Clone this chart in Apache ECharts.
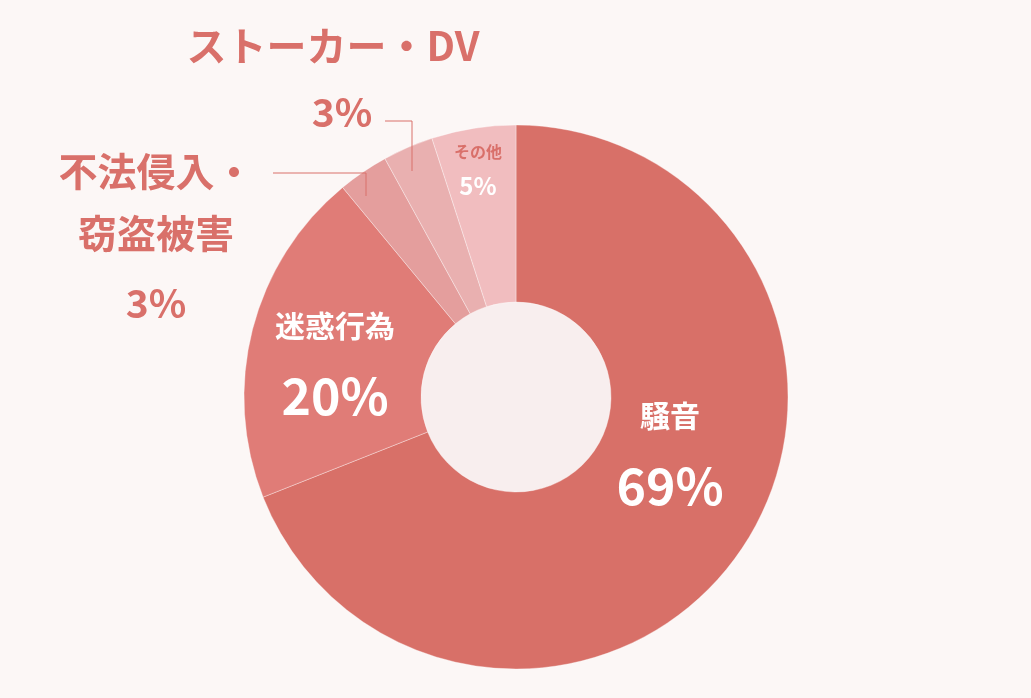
<!DOCTYPE html>
<html>
<head>
<meta charset="utf-8">
<style>
html,body{margin:0;padding:0;background:#fcf7f6;}
#chart{width:1031px;height:698px;}
</style>
<script src="https://cdn.jsdelivr.net/npm/echarts@6/dist/echarts.min.js"></script>
</head>
<body>
<div id="chart"></div>
<script>
// ---- data ----
const categories = ['騒音', '迷惑行為', '不法侵入・\n窃盗被害', 'ストーカー・DV', 'その他'];
const values = [69, 20, 3, 3, 5];
const colors = ['#d87068', '#e07c77', '#e49e9d', '#e9b0b0', '#f1bdbf'];

// label styles per slice (rich keys)
const labelKinds = ['big', 'big', 'out', 'out2', 'small'];
// label block centers and leader line points (layout, not data)
const labelPos = [
  { x: 670, y: 451 },
  { x: 335, y: 361 },
  { x: 156, y: 241, line: [[366, 196], [366, 173], [273, 173]] },
  { x: 333, y: 79, line: [[412, 171], [412, 121], [385, 121]] },
  { x: 478, y: 169 }
];

const FONT = '"Noto Sans CJK JP", "Noto Sans", sans-serif';
const TXT = '#d9706a';

const chart = echarts.init(document.getElementById('chart'));
chart.setOption({
  backgroundColor: '#fcf7f6',
  animation: false,
  graphic: labelPos.filter(l => l.line).map(l => ({
    type: 'polyline',
    z: 100,
    silent: true,
    shape: { points: l.line },
    style: { stroke: TXT, lineWidth: 1, fill: null }
  })),
  series: [
    {
      type: 'pie',
      center: [516, 397],
      radius: [0, 95],
      silent: true,
      z: 1,
      label: { show: false },
      labelLine: { show: false },
      itemStyle: { color: '#f8eeee' },
      data: [{ value: 1, name: '' }]
    },
    {
      type: 'pie',
      center: [516, 397],
      radius: [95, 272],
      startAngle: 90,
      clockwise: true,
      z: 2,
      itemStyle: { borderColor: 'rgba(255,255,255,0.35)', borderWidth: 1 },
      data: categories.map((c, i) => ({ name: c, value: values[i], itemStyle: { color: colors[i] } })),
      label: {
        show: true,
        position: 'inside',
        fontFamily: FONT,
        fontWeight: 'bold',
        align: 'center',
        formatter: (p) => {
          const k = labelKinds[p.dataIndex];
          if (k === 'out') {
            return p.name.split('\n').map(s => '{' + k + 'n|' + s + '}').join('\n') + '\n{' + k + 'p|' + p.value + '%}';
          }
          return '{' + k + 'n|' + p.name + '}\n{' + k + 'p|' + p.value + '%}';
        },
        rich: {
          bign: { fontFamily: FONT, fontWeight: 'bold', fontSize: 30, color: '#ffffff', lineHeight: 70, align: 'center' },
          bigp: { fontFamily: FONT, fontWeight: 'bold', fontSize: 50, color: '#ffffff', lineHeight: 70, align: 'center' },
          outn: { fontFamily: FONT, fontWeight: 'bold', fontSize: 39, color: TXT, lineHeight: 62, align: 'center' },
          outp: { fontFamily: FONT, fontWeight: 'bold', fontSize: 39, color: TXT, lineHeight: 78, align: 'center' },
          out2n: { fontFamily: FONT, fontWeight: 'bold', fontSize: 40, color: TXT, lineHeight: 66, align: 'center' },
          out2p: { fontFamily: FONT, fontWeight: 'bold', fontSize: 39, color: TXT, lineHeight: 66, align: 'center', padding: [0, 0, 0, 18] },
          smalln: { fontFamily: FONT, fontWeight: 'bold', fontSize: 16, color: TXT, lineHeight: 34, align: 'center' },
          smallp: { fontFamily: FONT, fontWeight: 'bold', fontSize: 24, color: '#ffffff', lineHeight: 34, align: 'center' }
        }
      },
      labelLine: { show: false },
      labelLayout: (params) => {
        const L = labelPos[params.dataIndex];
        return { x: L.x, y: L.y, align: 'center', verticalAlign: 'middle' };
      }
    }
  ]
});
</script>
</body>
</html>
